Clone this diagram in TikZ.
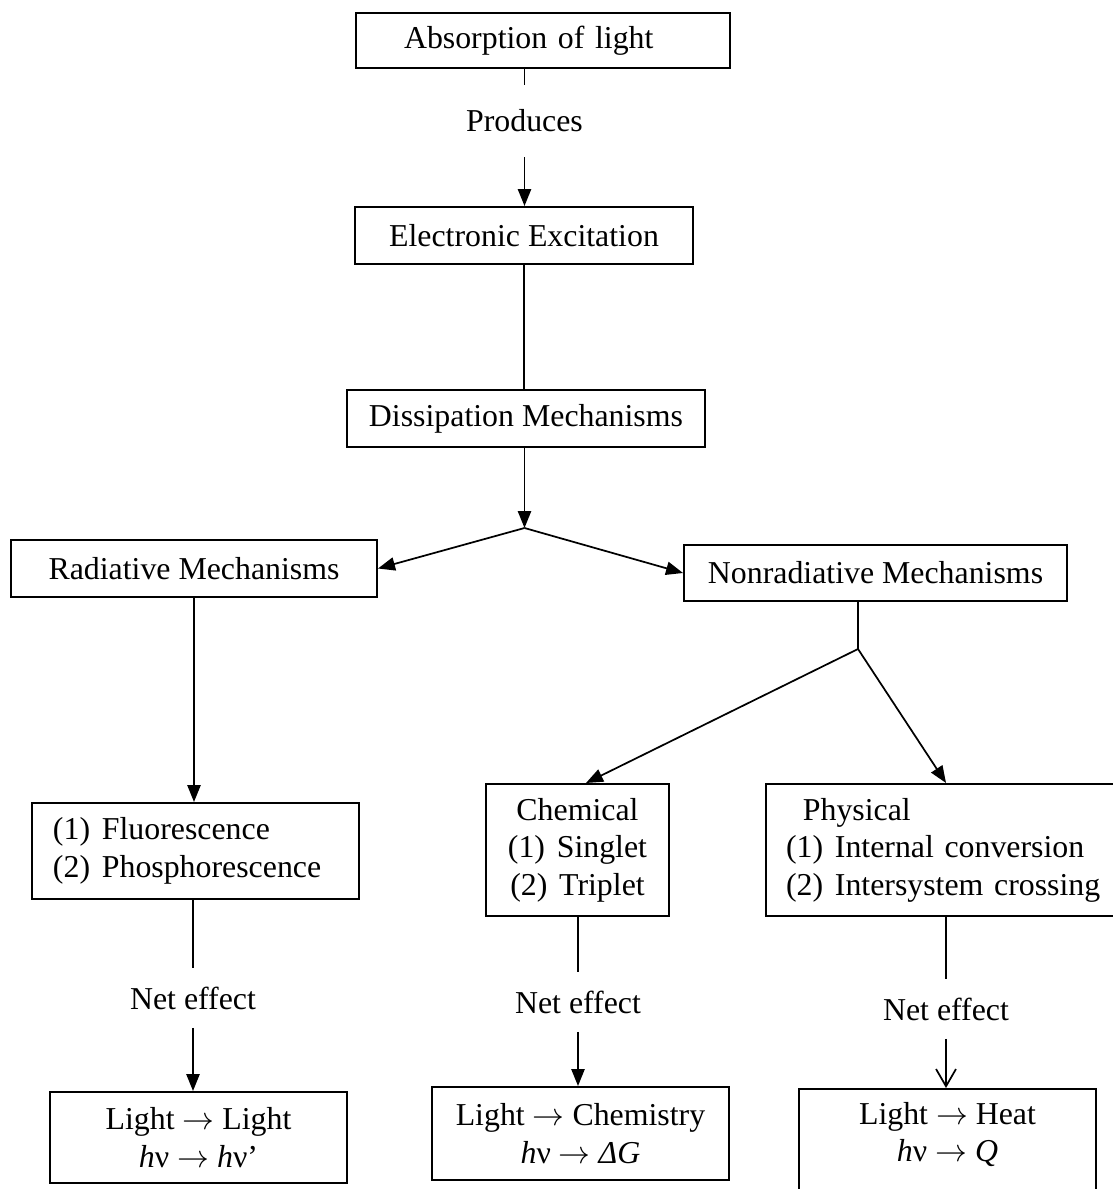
\documentclass[tikz,border=0pt]{standalone}
\usepackage{fontspec}
\setmainfont{Liberation Serif}
\usetikzlibrary{arrows.meta}
\newcommand\mechno[1]{(#1)\hspace{.37em}}
\newcommand\yields{ $\rightarrow$ }

\begin{document}
\begin{tikzpicture}[
  x=0.3768pt, y=-0.3768pt,
  every node/.style={font=\fontsize{12pt}{14.1pt}\selectfont},
  box/.style={draw,line width=0.75pt,inner sep=0pt},
  lbl/.style={inner sep=0pt,outer sep=7pt},
  link/.style={line width=0.65pt},
  arr/.style={link,-{Triangle[length=6.4pt,width=5pt]}},
  openarr/.style={link,-{Straight Barb[length=6.5pt,width=7.5pt]}}
]
  \useasboundingbox (0,0) rectangle (1113,1189);

  % --- top chain ---
  \node[box,anchor=north west,align=left,text width=104.75pt,inner xsep=18.09pt,
    minimum height=20.72pt] (absorb) at (355,12) {Absorption of light};
  \node[lbl,outer sep=9.5pt] (produces) at (524.5,121) {Produces};
  \node[box,minimum width=127.36pt,minimum height=21.48pt] (excite) at (524,235.5) {Electronic Excitation};
  \node[box,minimum width=134.89pt,minimum height=21.48pt] (dissip) at (526,418.5) {Dissipation Mechanisms};
  \coordinate (split) at (524.5,528);

  \draw[link] (produces.north |- absorb.south) -- (produces.north);
  \draw[arr] (produces.south) -- (produces.south |- excite.north);
  \draw[link] (excite.south) -- (excite.south |- dissip.north);
  \draw[arr] (dissip.south -| split) -- (split);

  % --- two branches ---
  \node[box,minimum width=137.91pt,minimum height=21.48pt] (rad) at (194,568.5) {Radiative Mechanisms};
  \node[box,minimum width=144.31pt,minimum height=21.1pt] (nonrad) at (875.5,573) {Nonradiative Mechanisms};
  \coordinate (nsplit) at (858,649);

  \draw[arr] (split) -- (rad.east);
  \draw[arr] (split) -- (nonrad.west);

  % --- mechanisms ---
  \node[box,anchor=north west,align=left,text width=107.39pt,inner xsep=7.91pt,
    minimum height=36.17pt] (fluor) at (31,802)
    {\mechno{1}Fluorescence\\ \mechno{2}Phosphorescence};
  \node[box,align=center,minimum width=68.95pt,minimum height=49.74pt] (chem) at (577.5,850)
    {Chemical\\ \mechno{1}Singlet\\ \mechno{2}Triplet};
  \node[box,anchor=north west,align=left,text width=120.6pt,inner xsep=7.54pt,
    minimum height=49.74pt] (phys) at (765,783)
    {\hspace*{.53em}Physical\\ \mechno{1}Internal conversion\\ \mechno{2}Intersystem crossing};

  \draw[arr] (rad.south) -- (rad.south |- fluor.north);
  \draw[link] (nonrad.south -| nsplit) -- (nsplit);
  \draw[arr] (nsplit) -- ([xshift=3.2pt]chem.north);
  \draw[arr] (nsplit) -- (phys.north);

  % --- net effect ---
  \node[lbl] (net1) at (193,998) {Net effect};
  \node[lbl] (net2) at (578,1002) {Net effect};
  \node[lbl] (net3) at (946,1009) {Net effect};

  \node[box,align=center,minimum width=111.91pt,minimum height=34.29pt] (out1) at (198.5,1137.5)
    {Light\yields Light\\ \textit{h}ν\yields\textit{h}ν’};
  \node[box,align=center,minimum width=111.91pt,minimum height=35.04pt] (out2) at (580.5,1133.5)
    {Light\yields Chemistry\\ \textit{h}ν\yields\textit{ΔG}};
  \node[box,align=center,anchor=north,minimum width=111.91pt,minimum height=50.87pt] (out3) at (947.5,1088)
    {Light\yields Heat\\ \textit{h}ν\yields\textit{Q}\\ \strut};

  \draw[link] (net1.north |- fluor.south) -- (net1.north);
  \draw[arr] (net1.south) -- (net1.south |- out1.north);
  \draw[link] (net2.north |- chem.south) -- (net2.north);
  \draw[arr] (net2.south) -- (net2.south |- out2.north);
  \draw[link] (net3.north |- phys.south) -- (net3.north);
  \draw[openarr] (net3.south) -- (net3.south |- out3.north);

\end{tikzpicture}
\end{document}
